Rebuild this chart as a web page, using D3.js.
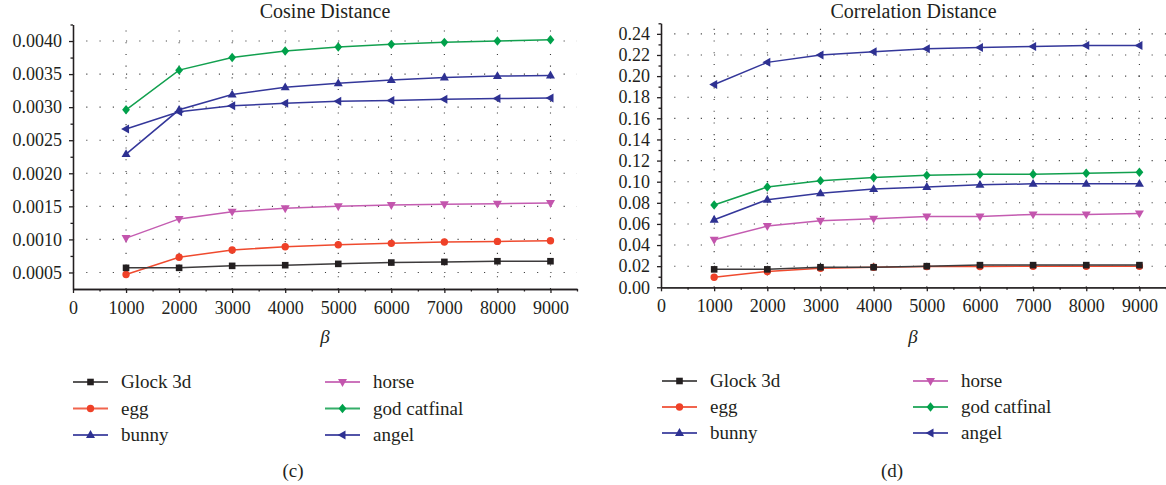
<!DOCTYPE html>
<html>
<head>
<meta charset="utf-8">
<script src="https://cdn.jsdelivr.net/npm/d3@7"></script>
<style>
    body { margin: 0; background: #fff; }
    svg text { font-family: "Liberation Serif", "DejaVu Serif", serif; fill: #231f20; }
</style>
</head>
<body>
<svg id="chart"></svg>
<script>
// x values (beta)
const betas = [1000, 2000, 3000, 4000, 5000, 6000, 7000, 8000, 9000];
const seriesNames = ["Glock 3d", "egg", "bunny", "horse", "god catfinal", "angel"];

// (c) cosine distance
const cosGlock = [0.00057, 0.00057, 0.00060, 0.00061, 0.00063, 0.00065, 0.00066, 0.00067, 0.00067];
const cosEgg = [0.00047, 0.00073, 0.00084, 0.00089, 0.00092, 0.00094, 0.00096, 0.00097, 0.00098];
const cosBunny = [0.00229, 0.00296, 0.00319, 0.00330, 0.00336, 0.00341, 0.00345, 0.00347, 0.00348];
const cosHorse = [0.00102, 0.00131, 0.00142, 0.00147, 0.00150, 0.00152, 0.00153, 0.00154, 0.00155];
const cosGod = [0.00296, 0.00356, 0.00375, 0.00385, 0.00391, 0.00395, 0.00398, 0.00400, 0.00402];
const cosAngel = [0.00267, 0.00293, 0.00302, 0.00306, 0.00309, 0.00310, 0.00312, 0.00313, 0.00314];

// (d) correlation distance
const corGlock = [0.017, 0.017, 0.019, 0.019, 0.020, 0.021, 0.021, 0.021, 0.021];
const corEgg = [0.0095, 0.015, 0.018, 0.019, 0.0196, 0.0196, 0.020, 0.020, 0.020];
const corBunny = [0.064, 0.083, 0.089, 0.093, 0.095, 0.097, 0.098, 0.098, 0.098];
const corHorse = [0.045, 0.058, 0.063, 0.065, 0.067, 0.067, 0.069, 0.069, 0.070];
const corGod = [0.078, 0.095, 0.101, 0.104, 0.106, 0.107, 0.107, 0.108, 0.109];
const corAngel = [0.192, 0.213, 0.220, 0.223, 0.226, 0.227, 0.228, 0.229, 0.229];

// tick values
const xTicks = [0, 1000, 2000, 3000, 4000, 5000, 6000, 7000, 8000, 9000];
const xMinorTicks = [500, 1500, 2500, 3500, 4500, 5500, 6500, 7500, 8500, 9500];
const cosTicks = [0.0005, 0.0010, 0.0015, 0.0020, 0.0025, 0.0030, 0.0035, 0.0040];
const cosMinorTicks = [0.00075, 0.00125, 0.00175, 0.00225, 0.00275, 0.00325, 0.00375, 0.00425];
const corTicks = [0, 0.02, 0.04, 0.06, 0.08, 0.10, 0.12, 0.14, 0.16, 0.18, 0.20, 0.22, 0.24];
const corMinorTicks = [0.01, 0.03, 0.05, 0.07, 0.09, 0.11, 0.13, 0.15, 0.17, 0.19, 0.21, 0.23, 0.25];

const ink = "#231f20";
const colors = {
    "Glock 3d": {line: "#3d3b3c", mark: "#231f20"},
    "egg": {line: "#ef4a2e", mark: "#ef4128"},
    "bunny": {line: "#34379a", mark: "#2e3192"},
    "horse": {line: "#c45cb1", mark: "#c355ad"},
    "god catfinal": {line: "#12a04f", mark: "#00a14b"},
    "angel": {line: "#34379a", mark: "#2e3192"}
};

// custom marker shapes for d3.symbol
function poly(pts) {
    return {
        draw(ctx) {
            ctx.moveTo(pts[0][0], pts[0][1]);
            for (let i = 1; i < pts.length; i++) ctx.lineTo(pts[i][0], pts[i][1]);
            ctx.closePath();
        }
    };
}
const markers = {
    "Glock 3d": poly([[-3.3, -3.3], [3.3, -3.3], [3.3, 3.3], [-3.3, 3.3]]),
    "egg": {draw(ctx) { ctx.moveTo(3.7, 0); ctx.arc(0, 0, 3.7, 0, 2 * Math.PI); }},
    "bunny": poly([[0, -4.9], [4.5, 3], [-4.5, 3]]),
    "horse": poly([[0, 4.9], [4.5, -3], [-4.5, -3]]),
    "god catfinal": poly([[0, -4.7], [3.9, 0], [0, 4.7], [-3.9, 0]]),
    "angel": poly([[-4.9, 0], [3, -4.5], [3, 4.5]])
};

const svg = d3.select("#chart")
    .attr("width", 1166)
    .attr("height", 485);

function drawPanel(cfg) {
    const xScale = d3.scaleLinear().domain([0, 9500]).range([cfg.left, cfg.right]);
    const yScale = d3.scaleLinear().domain(cfg.yDomain).range([cfg.bottom, cfg.top]);
    const g = svg.append("g");

    // dotted grid
    g.append("g").selectAll("line")
        .data(cfg.yTicks.filter(d => d > cfg.yDomain[0]))
        .join("line")
        .attr("x1", cfg.left).attr("x2", cfg.right)
        .attr("y1", d => yScale(d)).attr("y2", d => yScale(d))
        .attr("stroke", "#3a3a3a")
        .attr("stroke-width", 1.1)
        .attr("stroke-dasharray", "1.1,12.16");
    g.append("g").selectAll("line")
        .data(xTicks.filter(d => d > 0))
        .join("line")
        .attr("x1", d => xScale(d)).attr("x2", d => xScale(d))
        .attr("y1", cfg.bottom).attr("y2", cfg.top)
        .attr("stroke", "#3a3a3a")
        .attr("stroke-width", 1.1)
        .attr("stroke-dasharray", "1.1,10.6");

    // axes
    const xAxis = d3.axisBottom(xScale).tickValues(xTicks).tickSize(4).tickSizeOuter(0)
        .tickPadding(8).tickFormat(d3.format("d"));
    const xMinor = d3.axisBottom(xScale).tickValues(xMinorTicks).tickSize(2.5).tickSizeOuter(0).tickFormat("");
    const yAxis = d3.axisLeft(yScale).tickValues(cfg.yTicks).tickSize(4).tickSizeOuter(0)
        .tickPadding(7).tickFormat(d3.format(cfg.fmt));
    const yMinor = d3.axisLeft(yScale).tickValues(cfg.yMinorTicks).tickSize(2.5).tickSizeOuter(0).tickFormat("");

    [[xMinor, "x"], [xAxis, "x"], [yMinor, "y"], [yAxis, "y"]].forEach(([ax, k]) => {
        const a = g.append("g")
            .attr("transform", k == "x" ? `translate(0,${cfg.bottom})` : `translate(${cfg.left},0)`)
            .attr("font-family", null)
            .call(ax);
        a.attr("font-family", "Liberation Serif");
        a.selectAll("path, line").attr("stroke", ink).attr("stroke-width", 1.3);
        a.selectAll("text").attr("font-size", 18).attr("fill", ink);
    });

    // title and axis label
    g.append("text")
        .attr("x", (cfg.left + cfg.right) / 2)
        .attr("y", 18)
        .attr("text-anchor", "middle")
        .attr("font-size", 20)
        .text(cfg.title);
    g.append("text")
        .attr("x", cfg.betaX)
        .attr("y", 343)
        .attr("text-anchor", "middle")
        .attr("font-size", 19)
        .attr("font-style", "italic")
        .text("β");

    // lines and markers, drawn back to front
    const line = d3.line()
        .x((d, i) => xScale(betas[i]))
        .y(d => yScale(d));
    const order = [5, 4, 3, 2, 1, 0];
    order.forEach(i => {
        const name = seriesNames[i];
        const vals = cfg.values[i];
        g.append("path")
            .datum(vals)
            .attr("d", line)
            .attr("fill", "none")
            .attr("stroke", colors[name].line)
            .attr("stroke-width", 1.5);
        g.append("g").selectAll("path")
            .data(vals)
            .join("path")
            .attr("transform", (d, j) => `translate(${xScale(betas[j])},${yScale(d)})`)
            .attr("d", d3.symbol().type(markers[name]))
            .attr("fill", colors[name].mark);
    });

    // legend
    const leg = g.append("g");
    seriesNames.forEach((name, i) => {
        const col = Math.floor(i / 3);
        const row = i % 3;
        const lx = cfg.legendX[col];
        const ly = cfg.legendY[row];
        leg.append("line")
            .attr("x1", lx).attr("x2", lx + 35)
            .attr("y1", ly).attr("y2", ly)
            .attr("stroke", colors[name].line)
            .attr("stroke-width", 2)
            .attr("opacity", 0.85);
        leg.append("path")
            .attr("transform", `translate(${lx + 17.5},${ly})`)
            .attr("d", d3.symbol().type(markers[name]))
            .attr("fill", colors[name].mark);
        leg.append("text")
            .attr("x", lx + 48)
            .attr("y", ly)
            .attr("dy", "0.33em")
            .attr("font-size", 19)
            .text(name);
    });

    g.append("text")
        .attr("x", cfg.captionX)
        .attr("y", 477)
        .attr("text-anchor", "middle")
        .attr("font-size", 19)
        .text(cfg.caption);
}

drawPanel({
    left: 73, right: 577, top: 24.5, bottom: 289,
    yDomain: [0.00025, 0.00425],
    yTicks: cosTicks, yMinorTicks: cosMinorTicks, fmt: ".4f",
    title: "Cosine Distance",
    values: [cosGlock, cosEgg, cosBunny, cosHorse, cosGod, cosAngel],
    betaX: 325,
    legendX: [73, 325], legendY: [382, 408.5, 435],
    caption: "(c)", captionX: 293
});

drawPanel({
    left: 661, right: 1166, top: 23.3, bottom: 287.3,
    yDomain: [0, 0.25],
    yTicks: corTicks, yMinorTicks: corMinorTicks, fmt: ".2f",
    title: "Correlation Distance",
    values: [corGlock, corEgg, corBunny, corHorse, corGod, corAngel],
    betaX: 913,
    legendX: [662, 913], legendY: [381, 407, 433],
    caption: "(d)", captionX: 892
});
</script>
</body>
</html>
